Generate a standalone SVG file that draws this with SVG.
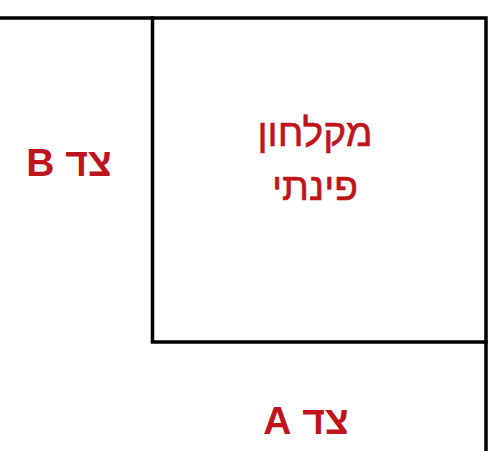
<svg xmlns="http://www.w3.org/2000/svg" width="500" height="451" viewBox="0 0 500 451">
<style>
.ln{stroke:#000;stroke-width:3.5;fill:none;stroke-linecap:square}
.lbl{font-family:"Liberation Sans",Arial,sans-serif;fill:#c0141c;text-anchor:middle;direction:rtl;unicode-bidi:embed}
.b{font-weight:bold;font-size:39px}
.r{font-size:39px;stroke:#c0141c;stroke-width:0.6}
</style>
<rect width="500" height="451" fill="#fff"/>
<g id="connectors">
<path class="ln" d="M0 18 H486 V451"/>
<path class="ln" d="M152.5 18 V342 H486"/>
</g>
<g id="shower">
<text class="lbl r" x="315" y="146">מקלחון</text>
<text class="lbl r" x="315" y="200">פינתי</text>
</g>
<g id="sideB">
<text class="lbl b" x="69" y="176">צד B</text>
</g>
<g id="sideA">
<text class="lbl b" x="306" y="434">צד A</text>
</g>
</svg>
